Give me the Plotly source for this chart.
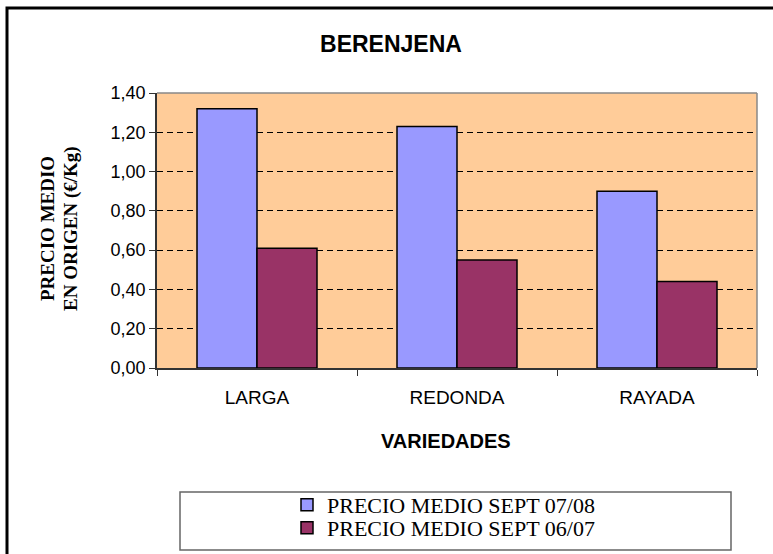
import plotly.graph_objects as go

categories = ["LARGA", "REDONDA", "RAYADA"]
series_names = ["PRECIO MEDIO SEPT 07/08", "PRECIO MEDIO SEPT 06/07"]
precio_0708 = [1.32, 1.23, 0.90]
precio_0607 = [0.61, 0.55, 0.44]
y_ticks = [0.0, 0.2, 0.4, 0.6, 0.8, 1.0, 1.2, 1.4]

W, H = 773, 554
L, R, T, B = 157, 757, 93, 368  # plot area pixels


def px(x):
    return (x - L) / (R - L)


def py(y):
    return (B - y) / (B - T)


SANS = "Arial, Liberation Sans, sans-serif"
SERIF = "Times New Roman, Liberation Serif, serif"

fig = go.Figure()
fig.add_trace(go.Bar(x=categories, y=precio_0708, name=series_names[0], legend="legend",
                     marker=dict(color="#9999FF", line=dict(color="black", width=1.5))))
fig.add_trace(go.Bar(x=categories, y=precio_0607, name=series_names[1], legend="legend2",
                     marker=dict(color="#993366", line=dict(color="black", width=1.5))))

legend_common = dict(xanchor="left", yanchor="middle",
                     font=dict(family=SERIF, size=22, color="black"),
                     bgcolor="rgba(0,0,0,0)", borderwidth=0)

fig.update_layout(
    width=W, height=H,
    margin=dict(l=L, r=W - R, t=T, b=H - B, autoexpand=False),
    paper_bgcolor="white",
    plot_bgcolor="#FFCC99",
    separators=",.",
    barmode="group",
    bargap=0.4,
    bargroupgap=0,
    title=dict(text="<b>BERENJENA</b>", x=391 / W, xanchor="center", y=1 - 44 / H, yanchor="middle",
               font=dict(family=SANS, size=23, color="black")),
    showlegend=True,
    legend=dict(x=px(287), y=py(505), **legend_common),
    legend2=dict(x=px(287), y=py(528), **legend_common),
    font=dict(family=SANS, color="black"),
)

fig.update_xaxes(
    showline=True, linecolor="#333333", linewidth=1.5,
    ticks="outside", tickson="boundaries", ticklen=6, tickcolor="#333333",
    tickfont=dict(family=SANS, size=19, color="black"),
    ticklabelstandoff=11,
    showgrid=False,
)
fig.update_yaxes(
    range=[0, 1.4], tickvals=y_ticks, tickformat=".2f",
    showline=True, linecolor="#333333", linewidth=1.5,
    ticks="outside", ticklen=6, tickcolor="#333333",
    tickfont=dict(family=SANS, size=18, color="black"),
    showgrid=True, gridcolor="black", gridwidth=1, griddash="6px,4px",
    zeroline=False,
)

# x-axis title
fig.add_annotation(text="<b>VARIEDADES</b>", xref="paper", yref="paper", x=px(446), y=py(441),
                   xanchor="center", yanchor="middle", showarrow=False,
                   font=dict(family=SANS, size=20, color="black"))
# y-axis title (two rotated lines)
fig.add_annotation(text="<b>PRECIO MEDIO</b>", xref="paper", yref="paper", x=px(47), y=py(229),
                   xanchor="center", yanchor="middle",
                   textangle=-90, showarrow=False, font=dict(family=SERIF, size=19, color="black"))
fig.add_annotation(text="<b>EN ORIGEN (€/Kg)</b>", xref="paper", yref="paper", x=px(71), y=py(229),
                   xanchor="center", yanchor="middle",
                   textangle=-90, showarrow=False, font=dict(family=SERIF, size=19, color="black"))

# gray border on top/right of plot area
fig.add_shape(type="line", xref="paper", yref="paper", x0=0, x1=1, y0=1, y1=1,
              line=dict(color="#888888", width=1.5))
fig.add_shape(type="line", xref="paper", yref="paper", x0=1, x1=1, y0=0, y1=1,
              line=dict(color="#888888", width=1.5))
# legend box
fig.add_shape(type="rect", xref="paper", yref="paper", x0=px(180), x1=px(731), y0=py(550), y1=py(492),
              line=dict(color="#666666", width=1.5), fillcolor="rgba(0,0,0,0)")
# outer chart border
fig.add_shape(type="rect", xref="paper", yref="paper", x0=px(7), x1=px(790), y0=py(580), y1=py(8),
              line=dict(color="black", width=3), fillcolor="rgba(0,0,0,0)")

fig.write_html("out.html", config={"displayModeBar": False},
               post_script="document.body.style.margin='0';")
